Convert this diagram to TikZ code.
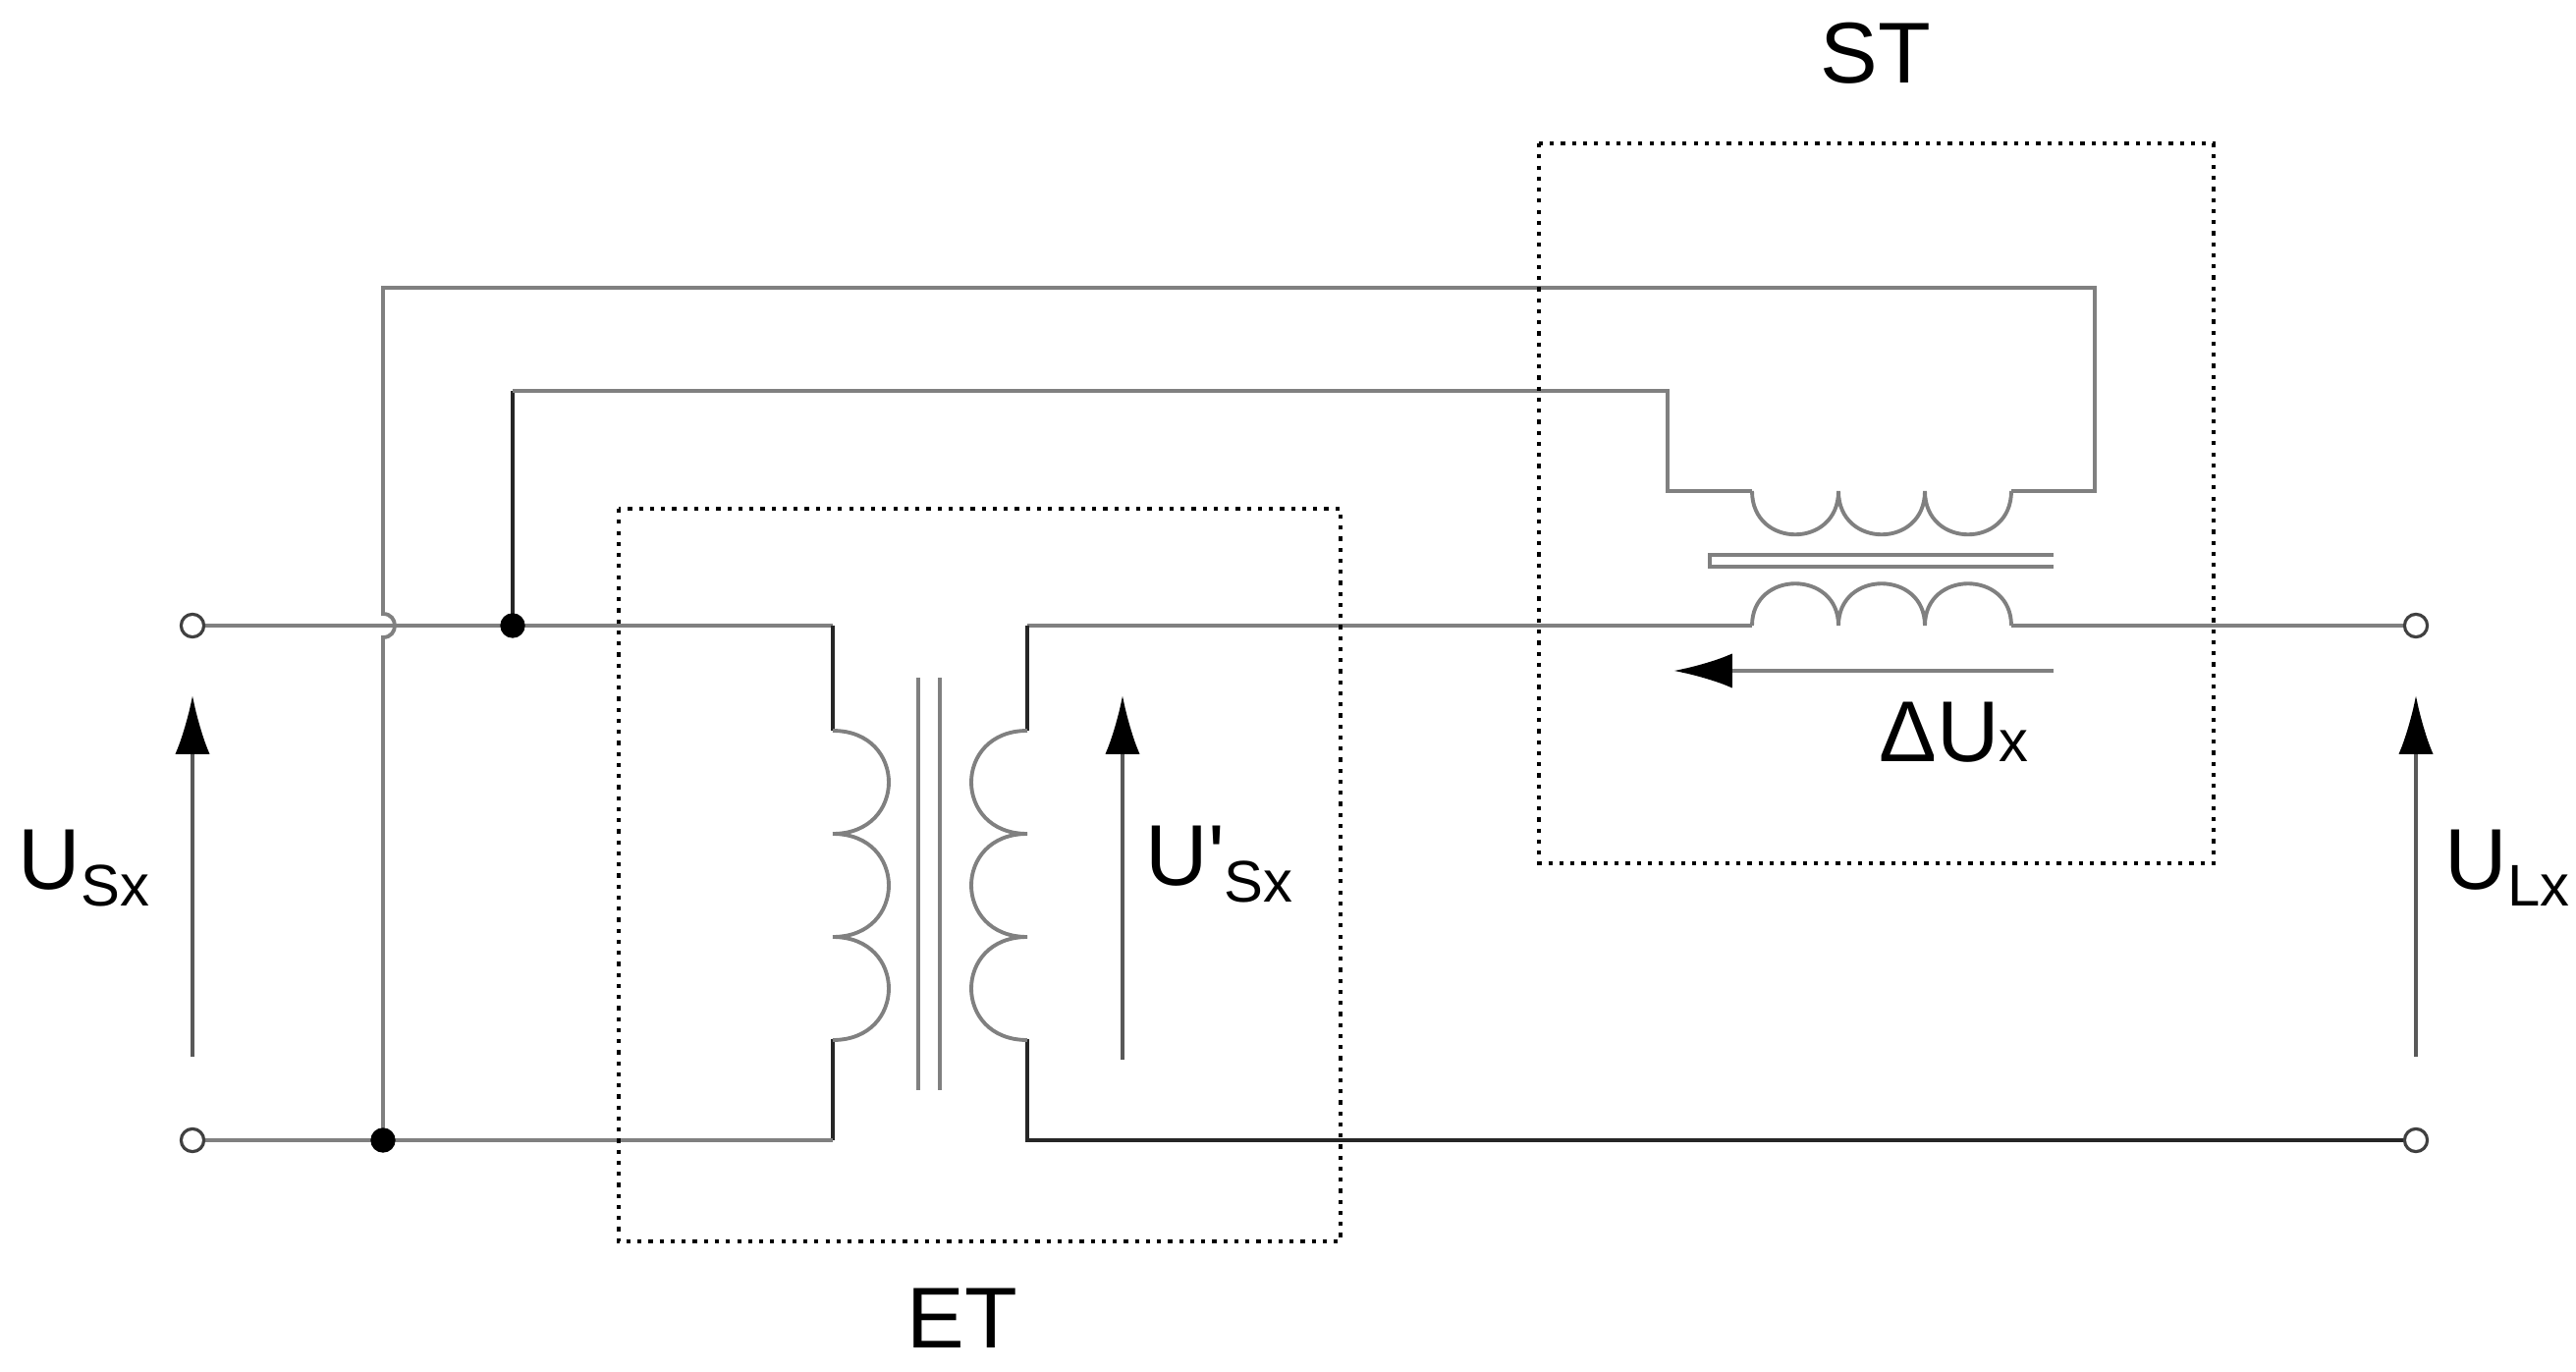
\documentclass[tikz,border=0pt]{standalone}
\usepackage{fontspec}
\setmainfont{Liberation Sans}
\usetikzlibrary{arrows.meta,backgrounds}
\newcommand{\lowsub}[1]{\raisebox{-5pt}{\fontsize{17}{20}\selectfont #1}}
\newcommand{\smallsub}[1]{{\fontsize{17}{20}\selectfont #1}}

\begin{document}
\begin{tikzpicture}[x=0.01cm,y=-0.01cm]
                      \tikzstyle{wire}=[draw=black!50,line width=1.1pt]
                      \tikzstyle{lead}=[draw=black!85,line width=1.1pt]
                      \tikzstyle{point}=[circle,draw=black,fill=black,inner sep=0pt,minimum size=6.8pt]
                      \tikzstyle{term}=[circle,draw=black!75,fill=white,line width=0.9pt,inner sep=0pt,minimum size=6.6pt]
                      \tikzstyle{frame}=[draw=black,dotted,line width=1.2pt]
                      \tikzstyle{volt}=[draw=black!65,line width=1pt,-{Latex[length=17pt,width=10pt,color=black]}]
                      \tikzstyle{lbl}=[font=\fontsize{25}{30}\selectfont,inner sep=0pt]
                      \useasboundingbox (0,0) rectangle (2623,1397);
                      \node[term] (tl) at (196,637) {};
                      \node[term] (bl) at (196,1161) {};
                      \node[term] (tr) at (2460,637) {};
                      \node[term] (br) at (2460,1161) {};
                      \node[point] (jt) at (522,637) {};
                      \node[point] (jb) at (390,1161) {};
                      \coordinate (c1) at (390,293);
                      \coordinate (c2) at (2133,293);
                      \coordinate (c3) at (2133,500);
                      \coordinate (su2) at (2048,500);
                      \coordinate (su1) at (1784,500);
                      \coordinate (c4) at (1698,500);
                      \coordinate (c5) at (1698,398);
                      \coordinate (c6) at (522,398);
                      \coordinate (h1) at (390,625);
                      \coordinate (h2) at (390,649);
                      \coordinate (p1) at (848,637);
                      \coordinate (p2) at (848,744);
                      \coordinate (p3) at (848,1058);
                      \coordinate (p4) at (848,1161);
                      \coordinate (s1) at (1046,637);
                      \coordinate (s2) at (1046,744);
                      \coordinate (s3) at (1046,1058);
                      \coordinate (s4) at (1046,1161);
                      \coordinate (sl1) at (1784,637);
                      \coordinate (sl2) at (2048,637);
                      \begin{scope}[on background layer]
                      \draw[wire] (tl) -- (jt.center) -- (p1);
                      \draw[lead] (p1) -- (p2);
                      \draw[lead] (p3) -- (p4);
                      \draw[wire] (p4) -- (jb.center) -- (bl);
                      \draw[wire] (jb.center) -- (h2) .. controls (406,649) and (406,625) .. (h1) -- (c1) -- (c2) -- (c3) -- (su2);
                      \draw[lead] (jt.center) -- (c6);
                      \draw[wire] (c6) -- (c5) -- (c4) -- (su1);
                      \draw[wire] (tr) -- (sl2);
                      \draw[wire] (sl1) -- (s1);
                      \draw[lead] (s1) -- (s2);
                      \draw[lead] (s3) -- (s4) -- (br);
                      \end{scope}
                      \foreach \i [evaluate=\i as \ya using 744+105*\i, evaluate=\i as \yb using 849+105*\i] in {0,1,2} {
                        \draw[wire] (848,\ya) .. controls (924,\ya) and (924,\yb) .. (848,\yb);
                        \draw[wire] (1046,\ya) .. controls (970,\ya) and (970,\yb) .. (1046,\yb);
                      }
                      \foreach \i [evaluate=\i as \xa using 1784+88*\i, evaluate=\i as \xb using 1872+88*\i] in {0,1,2} {
                        \draw[wire] (\xa,500) .. controls (\xa,559) and (\xb,559) .. (\xb,500);
                        \draw[wire] (\xa,637) .. controls (\xa,580) and (\xb,580) .. (\xb,637);
                      }
                      \draw[wire] (935,690) -- (935,1110);
                      \draw[wire] (957,690) -- (957,1110);
                      \draw[wire] (2091,565) -- (1741,565) -- (1741,577) -- (2091,577);
                      \draw[frame] (630,518) rectangle (1365,1264);
                      \draw[frame] (1567,146) rectangle (2254,879);
                      \coordinate (a1) at (196,1076);
                      \coordinate (a2) at (196,708);
                      \coordinate (a3) at (1143,1079);
                      \coordinate (a4) at (1143,708);
                      \coordinate (a5) at (2460,1076);
                      \coordinate (a6) at (2460,708);
                      \coordinate (a7) at (2091,683);
                      \coordinate (a8) at (1704,683);
                      \draw[volt] (a1) -- (a2);
                      \draw[volt] (a3) -- (a4);
                      \draw[volt] (a5) -- (a6);
                      \draw[volt,draw=black!50,line width=1.3pt] (a7) -- (a8);
                      \node[lbl,anchor=base west] (usx) at (18,905) {U\lowsub{Sx}};
                      \node[lbl,anchor=base west] (usxp) at (1166,901) {U\textquotesingle\lowsub{Sx}};
                      \node[lbl,anchor=base west] (ulx) at (2489,905) {U\lowsub{Lx}};
                      \node[lbl,anchor=base west] (dux) at (1913,775) {ΔU\smallsub{x}};
                      \node[lbl] (st) at (1910,54) {ST};
                      \node[lbl] (et) at (980,1342) {ET};
                  \end{tikzpicture}
\end{document}
